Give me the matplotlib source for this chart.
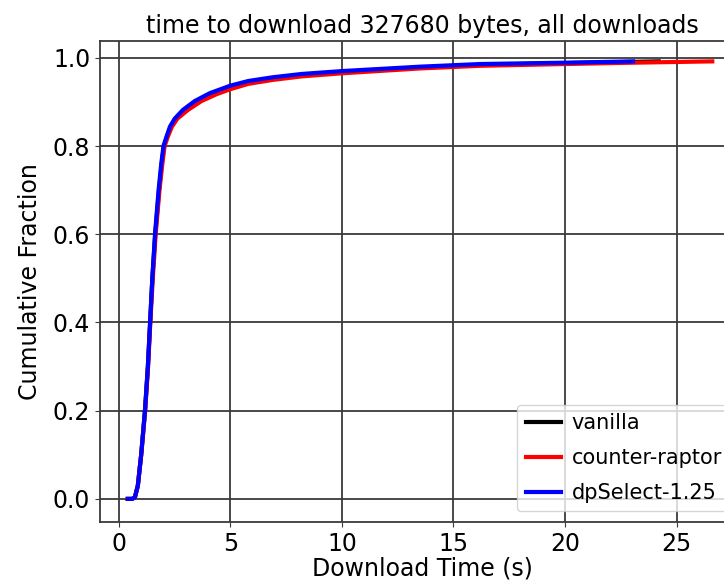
import matplotlib
matplotlib.use("Agg")
import matplotlib.pyplot as plt

# download time (s) and cumulative fraction of downloads finished by then
vanilla_time = [0.4, 0.6, 0.72, 0.85, 1.0, 1.17, 1.3, 1.4, 1.5, 1.63, 1.8, 1.92, 2.02,
                2.16, 2.32, 2.55, 2.95, 3.5, 4.2, 5.0, 5.8, 6.9, 8.2, 10.0, 13.5, 16.2,
                20.0, 24.2]
vanilla_frac = [0.0, 0.0, 0.004, 0.03, 0.1, 0.2, 0.3, 0.4, 0.5, 0.6, 0.7, 0.76, 0.8,
                0.822, 0.844, 0.862, 0.882, 0.902, 0.919, 0.933, 0.944, 0.953, 0.961,
                0.968, 0.978, 0.984, 0.988, 0.992]

raptor_time = [0.4, 0.6, 0.72, 0.85, 1.0, 1.18, 1.31, 1.41, 1.52, 1.65, 1.82, 1.95, 2.05,
               2.2, 2.38, 2.62, 3.1, 3.7, 4.4, 5.0, 5.8, 6.9, 8.2, 10.0, 13.5, 16.2,
               20.0, 23.0, 26.6]
raptor_frac = [0.0, 0.0, 0.004, 0.03, 0.1, 0.2, 0.3, 0.4, 0.5, 0.6, 0.7, 0.76, 0.8,
               0.822, 0.844, 0.862, 0.882, 0.902, 0.918, 0.929, 0.941, 0.95, 0.958,
               0.965, 0.976, 0.982, 0.986, 0.989, 0.992]

dpselect_time = [0.4, 0.6, 0.72, 0.85, 1.0, 1.17, 1.3, 1.4, 1.5, 1.62, 1.78, 1.9, 2.0,
                 2.14, 2.29, 2.5, 2.87, 3.4, 4.08, 5.0, 5.8, 6.9, 8.2, 10.0, 13.5, 16.2,
                 20.0, 23.05]
dpselect_frac = [0.0, 0.0, 0.004, 0.03, 0.1, 0.2, 0.3, 0.4, 0.5, 0.6, 0.7, 0.76, 0.8,
                 0.822, 0.844, 0.862, 0.882, 0.902, 0.92, 0.937, 0.9475, 0.956, 0.9635,
                 0.97, 0.98, 0.986, 0.989, 0.992]

fig = plt.figure(figsize=(7.24, 5.87), dpi=100)
ax = fig.add_axes([0.138, 0.111, 0.892, 0.819])

ax.plot(vanilla_time, vanilla_frac, color="black", lw=3, label="vanilla")
ax.plot(raptor_time, raptor_frac, color="red", lw=3, label="counter-raptor")
ax.plot(dpselect_time, dpselect_frac, color="blue", lw=3, label="dpSelect-1.25")

ax.set_xlim(-0.85, 28.1)
ax.set_ylim(-0.052, 1.038)
ax.set_xticks([0, 5, 10, 15, 20, 25])
ax.set_yticks([0.0, 0.2, 0.4, 0.6, 0.8, 1.0])
ax.grid(True, color="#3a3a3a", lw=1.3)
ax.tick_params(labelsize=17, color="#3a3a3a")
for sp in ax.spines.values():
    sp.set_color("#3a3a3a")
    sp.set_linewidth(1.3)

ax.set_xlabel("Download Time (s)", fontsize=17, labelpad=1)
ax.set_ylabel("Cumulative Fraction", fontsize=17, labelpad=8)
ax.set_title("time to download 327680 bytes, all downloads", fontsize=17)

ax.legend(loc="lower right", bbox_to_anchor=(0.992, 0.0), fontsize=15, framealpha=0.8,
          handlelength=1.7, handletextpad=0.5, labelspacing=0.72)

fig.savefig("out.png", dpi=100)
